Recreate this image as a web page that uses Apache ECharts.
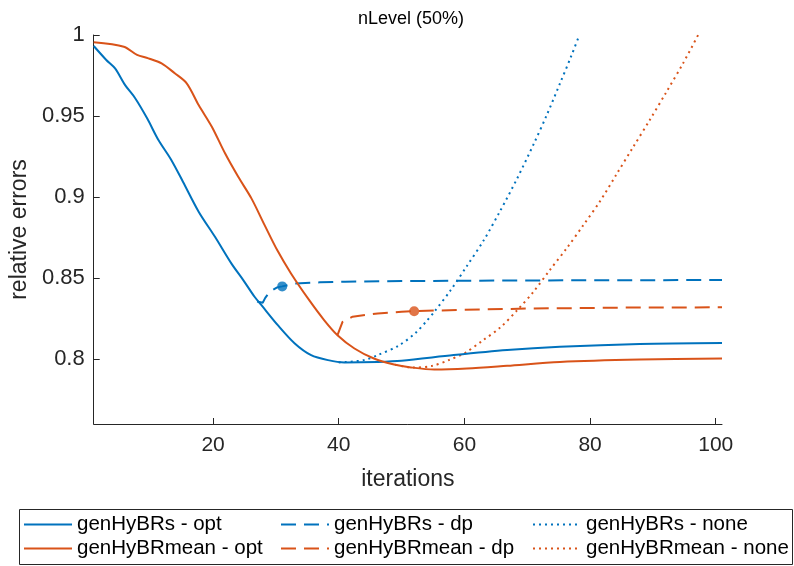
<!DOCTYPE html>
<html>
<head>
<meta charset="utf-8">
<script src="https://cdn.jsdelivr.net/npm/echarts@6/dist/echarts.min.js"></script>
<style>
html,body{margin:0;padding:0;background:#fff;}
#chart{width:794px;height:566px;}
</style>
</head>
<body>
<div id="chart"></div>
<script>
// ---- data ----
var chartTitle = 'nLevel (50%)';
var xName = 'iterations';
var yName = 'relative errors';
var xTicks = [20, 40, 60, 80, 100];
var yTicks = [0.8, 0.85, 0.9, 0.95, 1];

var brsOptX = [1, 3, 4.4, 6, 7.6, 9.5, 11.3, 13.3, 15.2, 17.7, 20.3, 22.9, 24.8, 26.6, 27.7, 30.3, 33, 35.6, 38.3, 40.9, 46.2, 50, 58.3, 66.8, 75.2, 87.9, 101];
var brsOptY = [0.9932, 0.9846, 0.9794, 0.9691, 0.961, 0.9486, 0.9352, 0.9232, 0.9095, 0.891, 0.8755, 0.8591, 0.8488, 0.8385, 0.8333, 0.821, 0.8097, 0.8025, 0.7994, 0.798, 0.7983, 0.799, 0.8025, 0.8056, 0.8076, 0.8093, 0.8099];

var meanOptX = [1, 5.8, 7.9, 9.7, 11.8, 13.9, 15.8, 17.7, 19.8, 21.9, 24, 26.1, 28.2, 30.2, 32.4, 35.3, 37.7, 39.8, 42.5, 45.6, 48.8, 51.5, 55.2, 60.4, 66.8, 75.2, 87.9, 101];
var meanOptY = [0.9955, 0.9928, 0.9877, 0.9856, 0.9825, 0.9764, 0.9702, 0.9568, 0.9434, 0.927, 0.9125, 0.8992, 0.8827, 0.8673, 0.8529, 0.8364, 0.824, 0.8148, 0.8066, 0.8004, 0.7967, 0.7949, 0.7936, 0.7942, 0.7959, 0.7983, 0.7998, 0.8004];

var brsDpX = [27, 27.9, 28.3, 29, 30.2, 31, 33, 37, 41, 50, 60, 80, 101];
var brsDpY = [0.8356, 0.8348, 0.8378, 0.8415, 0.8443, 0.8449, 0.8466, 0.8474, 0.8478, 0.8482, 0.8484, 0.8487, 0.8488];

var meanDpX = [39.8, 40.6, 42.2, 46.2, 50, 52, 60, 70, 85, 101];
var meanDpY = [0.8148, 0.823, 0.8262, 0.8282, 0.8292, 0.8296, 0.8305, 0.8312, 0.8318, 0.832];

var brsNoneX = [40, 44, 46.2, 49.6, 52.3, 54, 55.2, 57.8, 60.4, 63.1, 65.7, 68.4, 71, 73.1, 75.2, 77, 78.3];
var brsNoneY = [0.798, 0.7994, 0.8025, 0.8085, 0.8165, 0.8236, 0.8292, 0.8425, 0.8575, 0.8735, 0.8915, 0.9115, 0.9325, 0.9505, 0.97, 0.987, 1.0];

var meanNoneX = [49, 51.7, 54.9, 57.5, 60.2, 62.9, 65.7, 68.4, 71, 73.6, 76.3, 78.9, 81.6, 84.2, 86.8, 89.5, 92.1, 94.8, 97.2];
var meanNoneY = [0.7966, 0.7948, 0.7959, 0.7994, 0.8041, 0.8115, 0.8195, 0.8302, 0.8416, 0.855, 0.8685, 0.8825, 0.8975, 0.914, 0.9305, 0.9475, 0.9645, 0.9825, 1.0];

// selected points (dots)
var brsDotX = [31], brsDotY = [0.8449];
var meanDotX = [52], meanDotY = [0.8296];

var names = ['genHyBRs - opt', 'genHyBRmean - opt', 'genHyBRs - dp', 'genHyBRmean - dp', 'genHyBRs - none', 'genHyBRmean - none'];

// ---- build ----
function pairs(xs, ys) { return xs.map(function (x, i) { return [x, ys[i]]; }); }
var BLUE = '#0072BD', ORANGE = '#D95319', INK = '#262626';
var FONT = 'Liberation Sans, Arial, Helvetica, sans-serif';
var DASH = [15, 8], DOT = [2, 4];

function lineSeries(name, xs, ys, color, dash, smooth) {
  return {
    name: name, type: 'line', data: pairs(xs, ys),
    showSymbol: false, symbol: 'none', smooth: smooth, clip: true,
    lineStyle: { color: color, width: 2, type: dash || 'solid' },
    itemStyle: { color: color },
    emphasis: { disabled: true }, animation: false
  };
}

var series = [
  lineSeries(names[4], brsNoneX, brsNoneY, BLUE, DOT, 0.3),
  lineSeries(names[5], meanNoneX, meanNoneY, ORANGE, DOT, 0.3),
  lineSeries(names[2], brsDpX, brsDpY, BLUE, DASH, false),
  lineSeries(names[3], meanDpX, meanDpY, ORANGE, DASH, false),
  lineSeries(names[0], brsOptX, brsOptY, BLUE, null, 0.3),
  lineSeries(names[1], meanOptX, meanOptY, ORANGE, null, 0.3),
  { type: 'scatter', data: pairs(brsDotX, brsDotY), symbol: 'circle', symbolSize: 10,
    itemStyle: { color: BLUE }, silent: true, animation: false },
  { type: 'scatter', data: pairs(meanDotX, meanDotY), symbol: 'circle', symbolSize: 10,
    itemStyle: { color: ORANGE }, silent: true, animation: false }
];

function legendCol(left, items) {
  return {
    orient: 'vertical', left: left, top: 514, padding: 0, data: items,
    itemWidth: 48, itemHeight: 14, itemGap: 3, selectedMode: false,
    itemStyle: { opacity: 0, borderWidth: 0 },
    textStyle: { fontFamily: FONT, fontSize: 20.5, color: '#000' }
  };
}

var chart = echarts.init(document.getElementById('chart'), null, { renderer: 'canvas' });
chart.setOption({
  animation: false,
  backgroundColor: '#fff',
  title: {
    text: chartTitle, left: 353, top: 5,
    textStyle: { fontFamily: FONT, fontSize: 18, fontWeight: 'normal', color: '#000' }
  },
  grid: { left: 92, right: 72, top: 35, bottom: 142, containLabel: false },
  xAxis: {
    type: 'value', min: 1, max: 101,
    name: xName, nameLocation: 'middle', nameGap: 44,
    nameTextStyle: { fontFamily: FONT, fontSize: 23, color: INK },
    axisLine: { show: true, onZero: false, lineStyle: { color: INK, width: 1 } },
    axisTick: { show: true, inside: true, length: 6, customValues: xTicks, lineStyle: { color: INK } },
    axisLabel: { customValues: xTicks, margin: 11, fontFamily: FONT, fontSize: 21, color: INK },
    splitLine: { show: false }
  },
  yAxis: {
    type: 'value', min: 0.76, max: 1,
    name: yName, nameLocation: 'middle', nameGap: 54, nameRotate: 90,
    nameTextStyle: { fontFamily: FONT, fontSize: 23, color: INK },
    axisLine: { show: true, onZero: false, lineStyle: { color: INK, width: 1 } },
    axisTick: { show: true, inside: true, length: 6, customValues: yTicks, lineStyle: { color: INK } },
    axisLabel: {
      customValues: yTicks, margin: 9, fontFamily: FONT, fontSize: 22, color: INK,
      formatter: function (v) { return String(+(+v).toFixed(2)); }
    },
    splitLine: { show: false }
  },
  legend: [
    legendCol(23, [names[0], names[1]]),
    legendCol(280, [names[2], names[3]]),
    legendCol(532, [names[4], names[5]])
  ],
  graphic: [{
    type: 'rect', left: 17, top: 507, z: 0, silent: true,
    shape: { width: 773, height: 55 },
    style: { fill: 'none', stroke: INK, lineWidth: 1 }
  }],
  series: series
});
</script>
</body>
</html>
